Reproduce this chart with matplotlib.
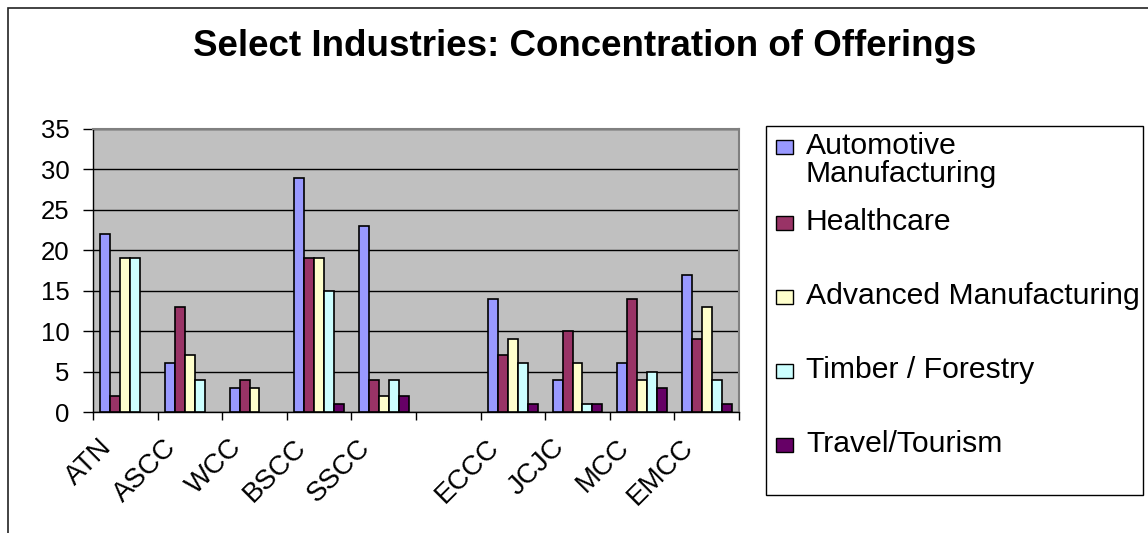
import numpy as np
import matplotlib
matplotlib.use("Agg")
import matplotlib.pyplot as plt
from matplotlib.patches import Rectangle
from matplotlib.transforms import ScaledTranslation

plt.rcParams['font.family'] = ['Liberation Sans', 'DejaVu Sans']

# data
colleges = ['ATN', 'ASCC', 'WCC', 'BSCC', 'SSCC', '', 'ECCC', 'JCJC', 'MCC', 'EMCC']
industries = ['Automotive\nManufacturing', 'Healthcare', 'Advanced Manufacturing',
              'Timber / Forestry', 'Travel/Tourism']
automotive = [22, 6, 3, 29, 23, 0, 14, 4, 6, 17]
healthcare = [2, 13, 4, 19, 4, 0, 7, 10, 14, 9]
advanced = [19, 7, 3, 19, 2, 0, 9, 6, 4, 13]
timber = [19, 4, 0, 15, 4, 0, 6, 1, 5, 4]
travel = [0, 0, 0, 1, 2, 0, 1, 1, 3, 1]
series = [automotive, healthcare, advanced, timber, travel]
colors = ['#9999FF', '#993366', '#FFFFCC', '#CCFFFF', '#660066']

W, H = 1148, 533
fig = plt.figure(figsize=(W / 100, H / 100), dpi=100)

def px(x, y):
    # pixel position (from top left) -> figure fraction
    return x / W, 1 - y / H

# outer chart border
fig.patches.append(Rectangle((8 / W, -0.05), 1.2, (H - 8) / H + 0.05, transform=fig.transFigure,
                             fill=False, edgecolor='#222222', linewidth=1.2))

ax = fig.add_axes([93 / W, (H - 412) / H, (739 - 93) / W, (412 - 129) / H])
ax.set_facecolor('#C0C0C0')

x = np.arange(len(colleges))
bw = 1 / 6.5
for k, (vals, c) in enumerate(zip(series, colors)):
    b = ax.bar(x + (k - 2) * bw, vals, bw, color=c, edgecolor='black', linewidth=1.2, zorder=3)
    for rect, v in zip(b.patches, vals):
        if v == 0:
            rect.set_visible(False)

ax.set_xlim(-0.5, len(colleges) - 0.5)
ax.set_ylim(0, 35)
ax.set_yticks(np.arange(0, 36, 5))
ax.yaxis.grid(True, color='black', linewidth=1.0, zorder=1)
ax.set_axisbelow(True)

ax.set_xticks(x)
ax.set_xticklabels(colleges, rotation=45, ha='right', va='top', fontsize=20)
ax.set_xticks(np.arange(-0.5, len(colleges), 1), minor=True)
ax.tick_params(axis='x', which='major', length=0, pad=16)
ax.tick_params(axis='x', which='minor', length=6, width=1.0, color='black')
ax.tick_params(axis='y', length=7, width=1.0, labelsize=18.5, pad=10)
for lab in ax.get_xticklabels():
    lab.set_transform(lab.get_transform() + ScaledTranslation(-0.08, 0, fig.dpi_scale_trans))

for s in ['top', 'right']:
    ax.spines[s].set_color('#808080')
    ax.spines[s].set_linewidth(1.5)
for s in ['left', 'bottom']:
    ax.spines[s].set_color('black')
    ax.spines[s].set_linewidth(1.0)

fig.text(*px(585, 47), 'Select Industries: Concentration of Offerings',
         ha='center', va='center', fontsize=26.5, fontweight='bold')

# legend box, laid out like the Excel one
x0, y0 = px(765.5, 495)
x1, y1 = px(1143, 126)
fig.patches.append(Rectangle((x0, y0), x1 - x0, y1 - y0, transform=fig.transFigure,
                             facecolor='white', edgecolor='black', linewidth=1.0, zorder=1))
baselines = [154, 230, 304, 377.5, 451.5]
for name, c, yb in zip(industries, colors, baselines):
    sx, sy = px(776, yb)
    fig.patches.append(Rectangle((sx, sy), 17 / W, 14 / H, transform=fig.transFigure,
                                 facecolor=c, edgecolor='black', linewidth=1.0, zorder=2))
    for i, line in enumerate(name.split('\n')):
        fig.text(*px(806, yb + 28 * i), line, ha='left', va='baseline', fontsize=21.7,
                 zorder=3)

fig.savefig('out.png', dpi=100)
